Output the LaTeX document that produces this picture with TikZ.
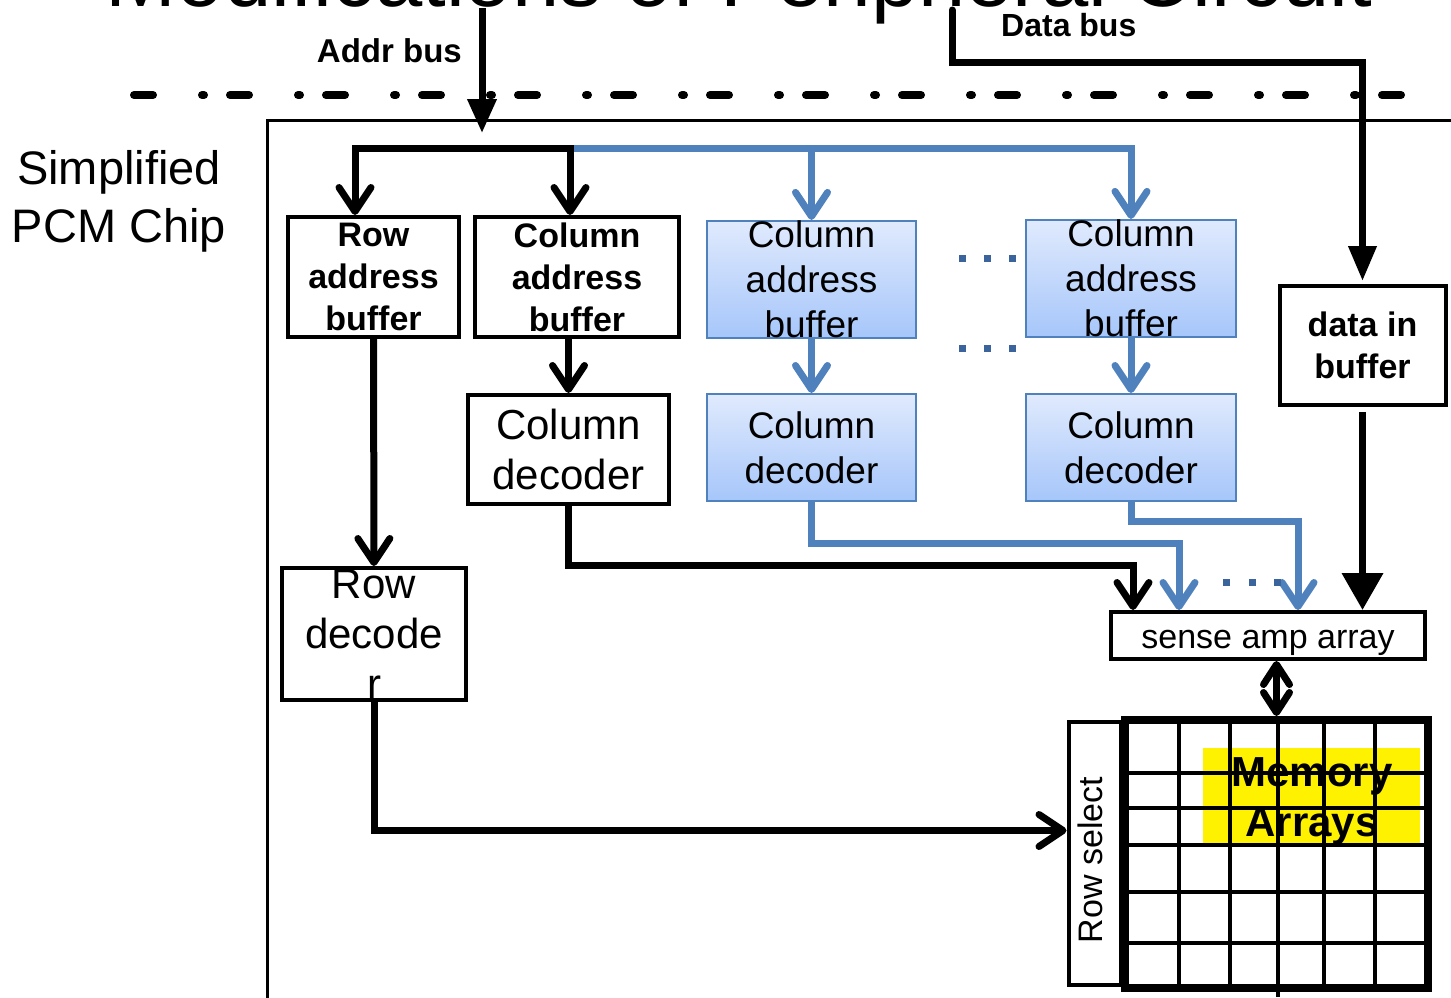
\documentclass[tikz,border=0pt]{standalone}
\usepackage{fontspec}
\setmainfont{Liberation Sans}
\usetikzlibrary{arrows.meta}
\definecolor{busblue}{RGB}{79,129,189}
\definecolor{boxtop}{RGB}{224,234,253}
\definecolor{boxbot}{RGB}{166,198,250}
\definecolor{dotblue}{RGB}{58,100,155}
\begin{document}
\begin{tikzpicture}[x=1pt,y=-1pt,line join=miter,>={Straight Barb[length=24pt,width=32pt,round]},
	wire/.style={line width=7pt},
	bluewire/.style={line width=7pt,busblue},
	blk/.style={draw,line width=4pt,inner sep=0pt,align=center},
	bbox/.style={draw=busblue,line width=2pt,top color=boxtop,bottom color=boxbot,inner sep=0pt,align=center,font=\fontsize{37}{45}\selectfont},
	boldtext/.style={font=\fontsize{34}{42}\selectfont\bfseries},
	plaintext/.style={font=\fontsize{42}{50}\selectfont}]
	\useasboundingbox (0,0) rectangle (1451,997);
	\clip (0,0) rectangle (1451,997);
	\fill[white] (0,0) rectangle (1451,997);
	\node[font=\fontsize{85}{90}\selectfont,anchor=base,inner sep=0pt] (title) at (739,6) {Modifications of Peripheral Circuit};
	\node[font=\fontsize{47}{58}\selectfont,align=center,inner sep=0pt] (chip) at (119,201) {Simplified\\PCM Chip};
	\node[font=\fontsize{33}{40}\selectfont\bfseries,anchor=base east,inner sep=0pt] (addrlbl) at (462,62) {Addr bus};
	\node[font=\fontsize{32}{40}\selectfont\bfseries,anchor=base west,inner sep=0pt] (datalbl) at (1001,36) {Data bus};
	\draw[line width=8pt,dash pattern=on 19pt off 49pt on 2pt off 26pt,line cap=round] (134,95) -- (1420,95);
	\draw[line width=3pt] (267,1000) |- (1460,120);
	\node[blk,boldtext,minimum width=171pt,minimum height=120pt] (rab) at (373.5,277) {Row\\address\\buffer};
	\node[blk,boldtext,minimum width=204pt,minimum height=120pt] (cab) at (577,277) {Column\\address\\buffer};
	\node[bbox,minimum width=209pt,minimum height=117pt] (cab1) at (811.5,279.5) {Column\\address\\buffer};
	\node[bbox,minimum width=210pt,minimum height=117pt] (cab2) at (1131,278.5) {Column\\address\\buffer};
	\node[blk,plaintext,minimum width=201pt,minimum height=109pt] (cd) at (568.5,449.5) {Column\\decoder};
	\node[bbox,minimum width=209pt,minimum height=107pt] (bd1) at (811.5,447.5) {Column\\decoder};
	\node[bbox,minimum width=210pt,minimum height=107pt] (bd2) at (1131,447.5) {Column\\decoder};
	\node[blk,plaintext,minimum width=184pt,minimum height=132pt] (rd) at (374,634) {Row\\decode\\r};
	\node[blk,font=\fontsize{34}{42}\selectfont\bfseries,minimum width=166pt,minimum height=119pt] (dib) at (1362.5,345.5) {data in\\buffer};
	\node[blk,font=\fontsize{34}{40}\selectfont,text height=33pt,text depth=7pt,minimum width=314pt,minimum height=47pt] (sa) at (1268,635.5) {sense amp array};
	\node[blk,minimum width=52pt,minimum height=263pt] (rs) at (1094.5,853.5) {};
	\node[font=\fontsize{34}{40}\selectfont,rotate=90,inner sep=0pt] (rstxt) at (1090,860) {Row select};
	\node[draw,line width=8pt,minimum width=303pt,minimum height=268pt,inner sep=0pt] (mem) at (1276.5,854) {};
	\fill[yellow] (1203,748) rectangle (1420,843);
	\foreach \gx in {1179,1230,1278,1324,1375} \draw[line width=4pt] (\gx,720) -- (\gx,988);
	\foreach \gy in {773,808,845,892,943} \draw[line width=4pt] (1125,\gy) -- (1428,\gy);
	\draw[line width=4pt] (1278,988) -- (1278,997);
	\node[font=\fontsize{42}{50}\selectfont\bfseries,align=center,inner sep=0pt] (memtxt) at (1312,801.5) {Memory\\Arrays};
	\coordinate (abus) at (482,8);
	\coordinate (aend) at (482,133);
	\coordinate (aleft) at (355,148);
	\coordinate (ablk) at (570,148);
	\coordinate (ablue) at (1131,148);
	\coordinate (dbus) at (952,10);
	\draw[wire,-{Triangle[length=34pt,width=28pt]}] (abus) -- (aend);
	\draw[wire,line cap=round,-{Triangle[length=35pt,width=27pt]}] (dbus) -- ++(0,52) -| ([yshift=3pt]dib.north);
	\draw[bluewire,->] (ablk) -- (ablue) -- (cab2.north);
	\draw[bluewire,->] (ablk -| cab1.north) -- (cab1.north);
	\draw[wire,<->] (aleft |- rab.north) -- (aleft) -- (ablk) -- (ablk |- cab.north);
	\draw[wire,->] (rab) -- (rd);
	\draw[wire,->] (cd.north |- cab.south) -- (cd.north);
	\draw[bluewire,->] (cab1) -- (bd1);
	\draw[bluewire,->] (cab2) -- (bd2);
	\draw[wire,->] (cd.south) -- ++(0,59) -| ([xshift=-135pt]sa.north);
	\draw[bluewire,->] (bd1.south) -- ++(0,41) -| ([xshift=-89pt]sa.north);
	\draw[bluewire,->] (bd2.south) -- ++(0,19) -| ([xshift=30pt]sa.north);
	\draw[wire,-{Triangle[length=37pt,width=40pt]}] ([yshift=-5pt]dib.south) -- (dib.south |- sa.north);
	\draw[wire,->] (rd.south) |- ([yshift=23pt]rs.west);
	\draw[wire,{Straight Barb[length=20pt,width=26pt,round]}-{Straight Barb[length=20pt,width=26pt,round]}] (mem.north |- sa.south) -- (mem.north);
	\foreach \dy in {258,348} \foreach \dx in {962,987,1012} \fill[dotblue] (\dx-3.5,\dy-3.5) rectangle ++(7,7);
	\foreach \dx in {1226,1252,1277} \fill[dotblue] (\dx-3.5,578.5) rectangle ++(7,7);
\end{tikzpicture}
\end{document}
